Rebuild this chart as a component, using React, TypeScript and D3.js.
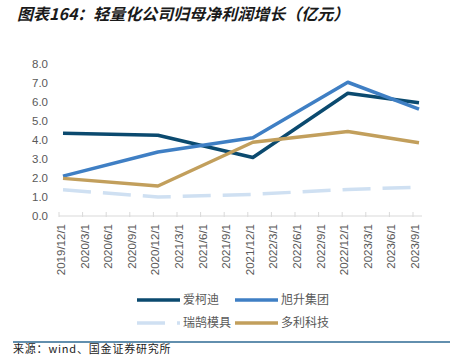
import React from "react";
import * as d3 from "d3";

const categories = [
  "2019/12/1", "2020/3/1", "2020/6/1", "2020/9/1", "2020/12/1", "2021/3/1", "2021/6/1", "2021/9/1",
  "2021/12/1", "2022/3/1", "2022/6/1", "2022/9/1", "2022/12/1", "2023/3/1", "2023/6/1", "2023/9/1",
];
const aikedi = [4.35, null, null, null, 4.25, null, null, null, 3.08, null, null, null, 6.46, null, null, 5.96];
const xusheng = [2.1, null, null, null, 3.37, null, null, null, 4.12, null, null, null, 7.04, null, null, 5.63];
const ruihu = [1.38, null, null, null, 1.0, null, null, null, 1.14, null, null, null, 1.4, null, null, 1.52];
const duoli = [1.98, null, null, null, 1.58, null, null, null, 3.88, null, null, null, 4.45, null, null, 3.86];
const yTicks = [0, 1, 2, 3, 4, 5, 6, 7, 8];

const seriesList = [
  { name: "爱柯迪", values: aikedi, color: "#0b4a6f", dash: null },
  { name: "旭升集团", values: xusheng, color: "#3f7fc4", dash: null },
  { name: "瑞鹄模具", values: ruihu, color: "#cfe0f2", dash: "28,12" },
  { name: "多利科技", values: duoli, color: "#c29f5c", dash: null },
];

const W = 450;
const H = 355;
const FONT = "Arial, 'Liberation Sans', 'Noto Sans CJK SC', sans-serif";
const CJK = "'Noto Sans CJK SC', sans-serif";

export default function App() {
  const y = d3.scaleLinear().domain([0, 8]).range([216, 64]);
  const xPt = d3.scalePoint<string>().domain(categories).range([63, 419]);
  const xTick = d3.scalePoint<string>().domain(categories).range([59, 413]);

  const line = d3
    .line<{ c: string; v: number }>()
    .x((d) => xPt(d.c) as number)
    .y((d) => y(d.v));

  const legend = [
    { s: seriesList[0], x: 137, y: 300 },
    { s: seriesList[1], x: 235, y: 300 },
    { s: seriesList[2], x: 137, y: 323 },
    { s: seriesList[3], x: 235, y: 323 },
  ];

  return (
    <svg
      width={W}
      height={H}
      style={{ position: "absolute", left: 0, top: 0, background: "#fff" }}
    >
      <text
        x={17}
        y={20}
        fontFamily={CJK}
        fontSize={16}
        fontWeight="bold"
        fontStyle="italic"
        fill="#1a1a1a"
      >
        图表164：轻量化公司归母净利润增长（亿元）
      </text>

      {yTicks.map((t) => (
        <text
          key={t}
          x={48}
          y={y(t)}
          dy="0.35em"
          textAnchor="end"
          fontFamily={FONT}
          fontSize={11.5}
          fill="#595959"
        >
          {t.toFixed(1)}
        </text>
      ))}

      <line x1={59} x2={422} y1={216} y2={216} stroke="#d9d9d9" strokeWidth={1} />
      {categories.map((c) => (
        <line
          key={"t" + c}
          x1={xTick(c)}
          x2={xTick(c)}
          y1={212}
          y2={217}
          stroke="#d9d9d9"
          strokeWidth={1}
        />
      ))}
      {categories.map((c) => (
        <text
          key={"l" + c}
          transform={`translate(${(xTick(c) as number) + 2},224) rotate(-90)`}
          textAnchor="end"
          dy="0.35em"
          fontFamily={FONT}
          fontSize={11.5}
          fill="#595959"
        >
          {c}
        </text>
      ))}

      {seriesList.map((s) => {
        const pts = categories
          .map((c, i) => ({ c, v: s.values[i] as number }))
          .filter((d) => d.v !== null && d.v !== undefined);
        return (
          <path
            key={s.name}
            d={line(pts) || ""}
            fill="none"
            stroke={s.color}
            strokeWidth={3.5}
            strokeDasharray={s.dash || undefined}
            strokeLinejoin="round"
          />
        );
      })}

      {legend.map(({ s, x, y: ly }) => (
        <g key={"lg" + s.name}>
          <line
            x1={x}
            x2={x + 43}
            y1={ly}
            y2={ly}
            stroke={s.color}
            strokeWidth={3.5}
            strokeDasharray={s.dash || undefined}
          />
          <text
            x={x + 46}
            y={ly}
            dy="0.35em"
            fontFamily={CJK}
            fontSize={12}
            fill="#595959"
          >
            {s.name}
          </text>
        </g>
      ))}

      <line x1={13} x2={450} y1={342} y2={342} stroke="#2e6a93" strokeWidth={1.5} />
      <text
        x={13}
        y={353}
        fontFamily={CJK}
        fontSize={11}
        letterSpacing={0.8}
        fill="#222"
      >
        来源：wind、国金证券研究所
      </text>
    </svg>
  );
}
